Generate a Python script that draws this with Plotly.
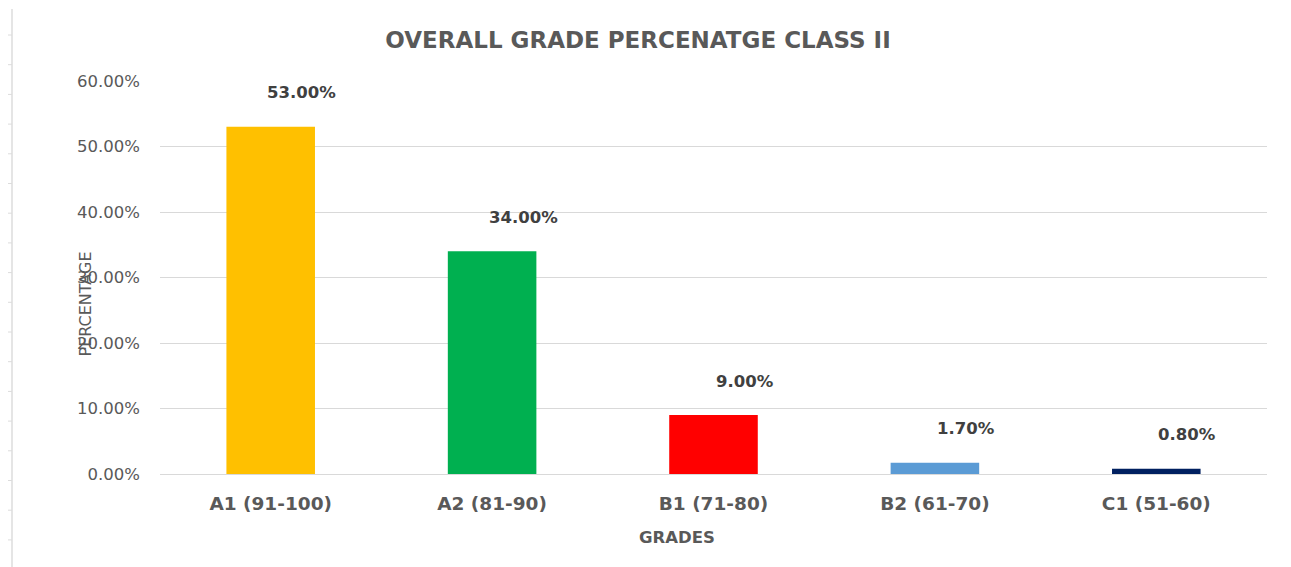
import plotly.graph_objects as go

categories = ["A1 (91-100)", "A2 (81-90)", "B1 (71-80)", "B2 (61-70)", "C1 (51-60)"]
values = [0.53, 0.34, 0.09, 0.017, 0.008]
colors = ["#FFC000", "#00B050", "#FF0000", "#5B9BD5", "#002060"]
y_ticks = [0, 0.1, 0.2, 0.3, 0.4, 0.5, 0.6]

OFF = 8  # page body margin
W, H = 1291 - OFF, 567 - OFF
L, R, T, B = 152, 24, 73, 93
PW, PH = W - L - R, H - T - B


def px(x):  # page x -> paper x
    return (x - OFF - L) / PW


def py(y):  # page y -> paper y
    return (H - B - (y - OFF)) / PH


FONT = "DejaVu Sans"
GREY = "#595959"

fig = go.Figure()
fig.add_trace(go.Bar(x=categories, y=values, marker=dict(color=colors, line=dict(width=0)),
                     width=0.4, showlegend=False, hoverinfo="skip"))

for c, v in zip(categories, values):
    fig.add_annotation(x=c, y=v, text=f"{v*100:.2f}%", showarrow=False,
                       xshift=31, yshift=34,
                       font=dict(family=FONT, size=16.5, color="#404040", weight="bold"))

fig.add_annotation(x=px(84.5), y=py(304), xref="paper", yref="paper", text="PERCENTAGE",
                   textangle=-90, showarrow=False, xanchor="center", yanchor="middle",
                   font=dict(family=FONT, size=16, color=GREY))

fig.add_annotation(x=px(677), y=py(537.5), xref="paper", yref="paper", text="GRADES",
                   showarrow=False, xanchor="center", yanchor="middle",
                   font=dict(family=FONT, size=16.5, color=GREY, weight="bold"))

# left spreadsheet border artifact
fig.add_shape(type="line", xref="paper", yref="paper", x0=px(12), x1=px(12),
              y0=py(567), y1=py(9), line=dict(color="#DCDCDC", width=1.5))
yy = 35.0
while yy < 567:
    fig.add_shape(type="line", xref="paper", yref="paper", x0=px(8), x1=px(12),
                  y0=py(yy), y1=py(yy), line=dict(color="#DCDCDC", width=1))
    yy += 29.7

fig.update_layout(
    width=W, height=H,
    margin=dict(l=L, r=R, t=T, b=B),
    paper_bgcolor="white", plot_bgcolor="white",
    title=dict(text="OVERALL GRADE PERCENATGE CLASS II", x=(638 - OFF) / W, xanchor="center",
               y=1 - (40 - OFF) / H, yanchor="middle",
               font=dict(family=FONT, size=23, color=GREY, weight="bold")),
    xaxis=dict(showline=False, showgrid=False, ticks="", ticklabelstandoff=16,
               tickfont=dict(family=FONT, size=18.5, color=GREY, weight="bold")),
    yaxis=dict(range=[0, 0.6], tickvals=y_ticks, tickformat=".2%", showline=False,
               gridcolor="#D9D9D9", gridwidth=1, zeroline=True, zerolinecolor="#D9D9D9", zerolinewidth=1,
               ticks="", ticklabelstandoff=19,
               tickfont=dict(family=FONT, size=16.5, color=GREY)),
)

fig.write_html("out.html")
